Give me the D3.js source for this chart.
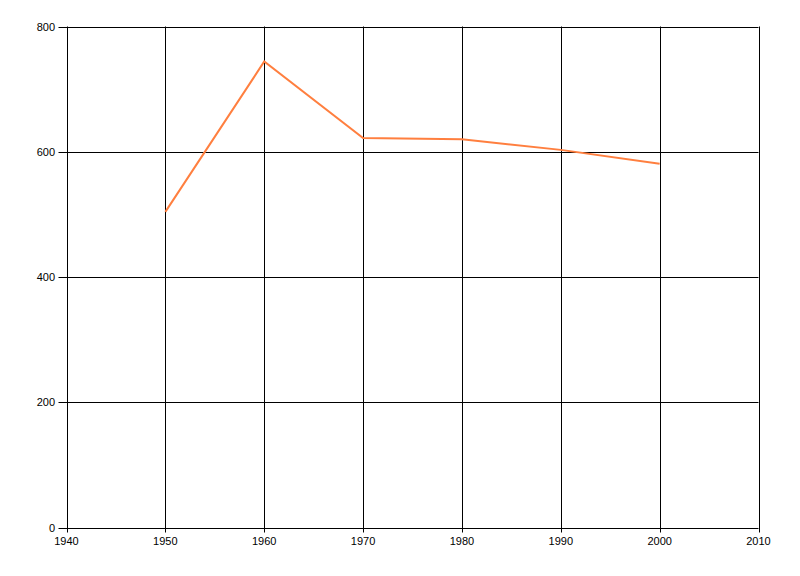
<!DOCTYPE html>
<html><head><meta charset="utf-8">
<script src="https://cdn.jsdelivr.net/npm/d3@7"></script>
<style>body{margin:0;background:#fff}svg{display:block}</style>
</head><body>
<svg id="c" width="800" height="576"></svg>
<script>
const years = [1950, 1960, 1970, 1980, 1990, 2000];
const values = [504, 744, 622, 620, 603, 581];
const xTicks = [1940, 1950, 1960, 1970, 1980, 1990, 2000, 2010];
const yTicks = [0, 200, 400, 600, 800];

const svg = d3.select("#c");
const m = {l: 66.5, r: 758.5, t: 26.5, b: 527.5};
const x = d3.scaleLinear().domain([1940, 2010]).range([m.l, m.r]);
const y = d3.scaleLinear().domain([0, 800]).range([m.b, m.t]);

const g = svg.append("g");
// grid
g.selectAll(".vx").data(xTicks).enter().append("line")
  .attr("x1", d => Math.round(x(d)) + 0.5).attr("x2", d => Math.round(x(d)) + 0.5)
  .attr("y1", m.t).attr("y2", m.b + 5)
  .attr("stroke", "#000").attr("stroke-width", 1);
g.selectAll(".hy").data(yTicks).enter().append("line")
  .attr("y1", d => Math.round(y(d)) + 0.5).attr("y2", d => Math.round(y(d)) + 0.5)
  .attr("x1", m.l - 8).attr("x2", m.r)
  .attr("stroke", "#000").attr("stroke-width", 1);

// labels
g.selectAll(".xl").data(xTicks).enter().append("text")
  .attr("x", d => x(d)).attr("y", 545)
  .attr("text-anchor", "middle")
  .attr("font-family", "Liberation Sans, Arial, sans-serif").attr("font-size", 11)
  .text(d => d);
g.selectAll(".yl").data(yTicks).enter().append("text")
  .attr("x", 55).attr("y", d => y(d) + 4)
  .attr("text-anchor", "end")
  .attr("font-family", "Liberation Sans, Arial, sans-serif").attr("font-size", 11)
  .text(d => d);

// line
const line = d3.line().x((d, i) => x(years[i])).y(d => y(d));
g.append("path").datum(values)
  .attr("d", line)
  .attr("fill", "none").attr("stroke", "#ff7f3f").attr("stroke-width", 2);
</script>
</body></html>
